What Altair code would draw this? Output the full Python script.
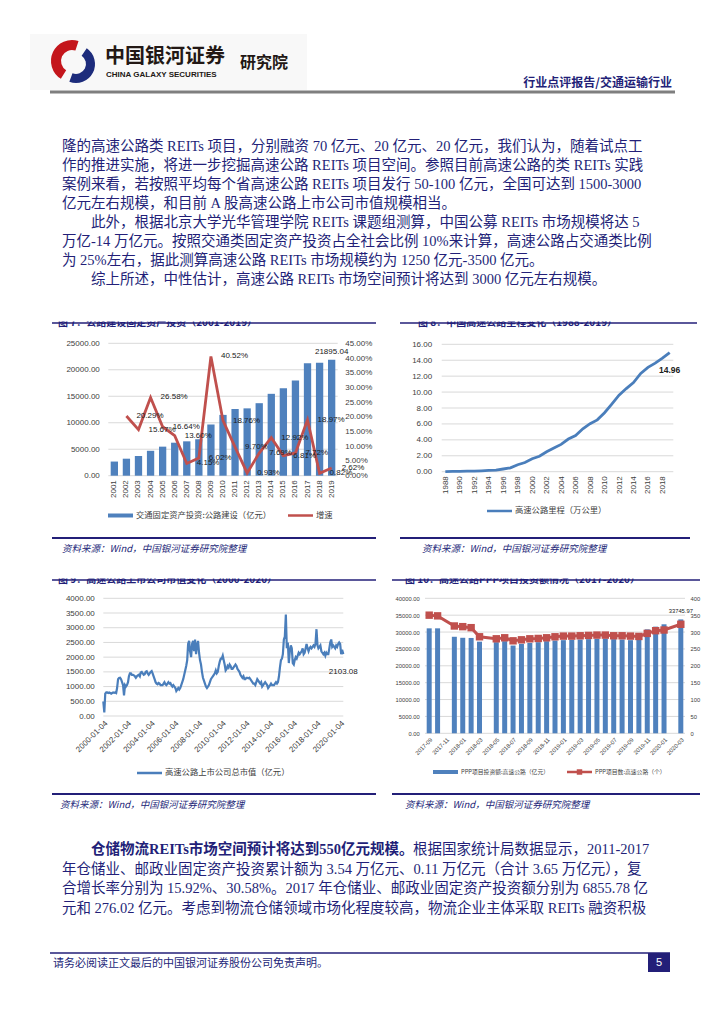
import altair as alt
import pandas as pd

# ---------------- colours & fonts ----------------
NAVY = "#231f78"
LOGO_NAVY = "#1d2c7c"
LOGO_RED = "#c4161c"
BAR_BLUE = "#4f81bd"
LINE_BLUE = "#4a7ebb"
RED = "#c0504d"
GRID = "#d9d9d9"
AXC = "#404040"
CJK = "Noto Sans CJK SC"
BODY = "Liberation Serif, Noto Sans CJK SC"
LAT = "Liberation Sans"

W, H = 708, 1008          # whole page (inside the 8px body margin)
ONE = pd.DataFrame({"k": [0]})
IND = "　　"              # paragraph indent marker (two ideographic spaces)

# ---------------- page texts ----------------
brand_cn = "中国银河证券"
brand_en = "CHINA GALAXY SECURITIES"
brand_inst = "研究院"
header_right = "行业点评报告/交通运输行业"
top_lines = [
    "隆的高速公路类 REITs 项目，分别融资 70 亿元、20 亿元、20 亿元，我们认为，随着试点工",
    "作的推进实施，将进一步挖掘高速公路 REITs 项目空间。参照目前高速公路的类 REITs 实践",
    "案例来看，若按照平均每个省高速公路 REITs 项目发行 50-100 亿元，全国可达到 1500-3000",
    "亿元左右规模，和目前 A 股高速公路上市公司市值规模相当。",
    "　　此外，根据北京大学光华管理学院 REITs 课题组测算，中国公募 REITs 市场规模将达 5",
    "万亿-14 万亿元。按照交通类固定资产投资占全社会比例 10%来计算，高速公路占交通类比例",
    "为 25%左右，据此测算高速公路 REITs 市场规模约为 1250 亿元-3500 亿元。",
    "　　综上所述，中性估计，高速公路 REITs 市场空间预计将达到 3000 亿元左右规模。",
]
bottom_bold = "仓储物流REITs市场空间预计将达到550亿元规模。"
bottom_first_rest = "根据国家统计局数据显示，2011-2017"
bottom_lines = [
    "年仓储业、邮政业固定资产投资累计额为 3.54 万亿元、0.11 万亿元（合计 3.65 万亿元），复",
    "合增长率分别为 15.92%、30.58%。2017 年仓储业、邮政业固定资产投资额分别为 6855.78 亿",
    "元和 276.02 亿元。考虑到物流仓储领域市场化程度较高，物流企业主体采取 REITs 融资积极",
]
footer_text = "请务必阅读正文最后的中国银河证券股份公司免责声明。"
page_no = "5"
source_text = "资料来源：Wind，中国银河证券研究院整理"
titles = [
    "图 7：公路建设固定资产投资（2001-2019）",
    "图 8：中国高速公路里程变化（1988-2019）",
    "图 9：高速公路上市公司市值变化（2000-2020）",
    "图 10：高速公路PPP项目投资额情况（2017-2020）",
]
legend1_bar = "交通固定资产投资:公路建设（亿元）"
legend1_line = "增速"
legend2 = "高速公路里程（万公里）"
legend3 = "高速公路上市公司总市值（亿元）"
legend4_bar = "PPP项目投资额:高速公路（亿元）"
legend4_line = "PPP项目数:高速公路（个）"

# ---------------- chart 1 data ----------------
years1 = ["2001", "2002", "2003", "2004", "2005", "2006", "2007", "2008", "2009", "2010",
          "2011", "2012", "2013", "2014", "2015", "2016", "2017", "2018", "2019"]
invest1 = [2670.0, 3212.0, 3715.0, 4702.0, 5485.0, 6231.0, 6490.0, 6881.0, 9669.0, 11482.0,
           12596.0, 12714.0, 13692.0, 15460.0, 16513.0, 17975.0, 21253.0, 21335.0, 21895.04]
growth1 = [None, 20.29, 15.67, 26.58, 16.64, 13.60, 4.15, 6.02, 40.52, 18.76,
           9.70, 0.93, 7.69, 12.92, 6.81, 7.72, 18.97, 0.82, 2.62]
ticks1_left = [0, 5000, 10000, 15000, 20000, 25000]
ticks1_right = [0, 5, 10, 15, 20, 25, 30, 35, 40, 45]

# ---------------- chart 2 data ----------------
years2 = ["1988", "1989", "1990", "1991", "1992", "1993", "1994", "1995", "1996", "1997",
          "1998", "1999", "2000", "2001", "2002", "2003", "2004", "2005", "2006", "2007",
          "2008", "2009", "2010", "2011", "2012", "2013", "2014", "2015", "2016", "2017",
          "2018", "2019"]
mileage2 = [0.01, 0.03, 0.05, 0.06, 0.07, 0.11, 0.16, 0.21, 0.34, 0.48,
            0.87, 1.16, 1.63, 1.94, 2.51, 2.97, 3.43, 4.10, 4.53, 5.39,
            6.03, 6.51, 7.41, 8.49, 9.62, 10.44, 11.19, 12.35, 13.10, 13.64,
            14.26, 14.96]
ticks2_x = ["1988", "1990", "1992", "1994", "1996", "1998", "2000", "2002", "2004",
            "2006", "2008", "2010", "2012", "2014", "2016", "2018"]
ticks2_y = [0, 2, 4, 6, 8, 10, 12, 14, 16]

# ---------------- chart 3 data (monthly readings 2000-01 .. 2020-03, + last day) ----------------
cap_2000 = [500, 120, 760, 800, 800, 780, 800, 780, 760, 780, 800, 790]
cap_2001 = [800, 780, 950, 1250, 1290, 1300, 1250, 1150, 1050, 700, 1050, 1000]
cap_2002 = [1050, 1150, 1350, 1450, 1450, 1400, 1400, 1380, 1350, 1300, 1350, 1380]
cap_2003 = [1400, 1350, 1480, 1500, 1450, 1400, 1420, 1500, 1520, 1450, 1400, 1450]
cap_2004 = [1500, 1530, 1450, 1350, 1250, 1150, 1100, 1080, 1120, 1100, 1050, 1050]
cap_2005 = [1050, 1100, 1150, 1080, 1050, 1100, 1150, 1100, 1120, 1050, 1000, 1050]
cap_2006 = [1000, 950, 850, 900, 950, 900, 950, 1050, 1150, 1250, 1400, 1550]
cap_2007 = [1700, 1900, 2450, 2550, 2200, 2000, 2450, 2550, 2200, 2600, 2100, 2400]
cap_2008 = [2550, 2150, 1900, 1750, 1500, 1300, 1200, 1100, 1000, 950, 1000, 1050]
cap_2009 = [1150, 1250, 1300, 1350, 1400, 1450, 1550, 1450, 1500, 1700, 1850, 1950]
cap_2010 = [1950, 2050, 1900, 1750, 1550, 1600, 1700, 1650, 1750, 1700, 1600, 1600]
cap_2011 = [1650, 1700, 1750, 1700, 1600, 1550, 1500, 1400, 1350, 1300, 1350, 1250]
cap_2012 = [1250, 1300, 1300, 1280, 1300, 1250, 1200, 1150, 1100, 1100, 1050, 1150]
cap_2013 = [1250, 1200, 1150, 1100, 1150, 1000, 1050, 1100, 1150, 1100, 1050, 950]
cap_2014 = [1000, 1050, 1100, 1050, 1050, 1050, 1100, 1150, 1100, 1150, 1350, 1650]
cap_2015 = [1900, 1950, 2100, 2600, 2700, 3450, 2300, 2500, 1800, 2200, 2400, 2300]
cap_2016 = [1800, 1750, 1900, 2000, 1950, 2050, 2150, 2100, 2150, 2200, 2300, 2100]
cap_2017 = [2150, 2300, 2450, 2300, 2200, 2300, 2350, 2300, 2350, 2400, 2350, 2450]
cap_2018 = [2950, 2400, 2300, 2350, 2400, 2200, 2150, 2100, 2150, 2050, 2150, 2100]
cap_2019 = [2100, 2300, 2500, 2600, 2350, 2400, 2350, 2300, 2400, 2350, 2450, 2500]
cap_2020 = [2450, 2100, 2250, 2103.08]
cap_values = (cap_2000 + cap_2001 + cap_2002 + cap_2003 + cap_2004 + cap_2005 + cap_2006
              + cap_2007 + cap_2008 + cap_2009 + cap_2010 + cap_2011 + cap_2012 + cap_2013
              + cap_2014 + cap_2015 + cap_2016 + cap_2017 + cap_2018 + cap_2019 + cap_2020)
cap_dates = [f"{y}-{m:02d}-04" for y in range(2000, 2020) for m in range(1, 13)]
cap_dates += ["2020-01-04", "2020-02-04", "2020-03-04", "2020-04-10"]
cap_tick_years = [2000, 2002, 2004, 2006, 2008, 2010, 2012, 2014, 2016, 2018, 2020]
ticks3_y = [0, 500, 1000, 1500, 2000, 2500, 3000, 3500, 4000]

# ---------------- chart 4 data ----------------
ppp_months = ["2017-09", "2017-10", "2017-11", "2017-12", "2018-01", "2018-02", "2018-03",
              "2018-04", "2018-05", "2018-06", "2018-07", "2018-08", "2018-09", "2018-10",
              "2018-11", "2018-12", "2019-01", "2019-02", "2019-03", "2019-04", "2019-05",
              "2019-06", "2019-07", "2019-08", "2019-09", "2019-10", "2019-11", "2019-12",
              "2020-01", "2020-02", "2020-03"]
ppp_amount = [31100, 31100, None, 28600, 28300, 28250, 27150,
              None, 27000, 27300, 26000, 26500, 26800, 27000,
              27300, 27500, 27600, 27700, 27800, 27900, 28000,
              28100, 27900, 27800, 27600, 28500, 30800, 31600,
              32300, None, 33745.97]
ppp_count = [350, 348, None, 318, 316, 313, 286,
             None, 280, 283, 274, 277, 280, 281,
             283, 286, 288, 288, 289, 290, 291,
             291, 289, 289, 288, 287, 296, 304,
             306, None, 323]
ticks4_x = ["2017-09", "2017-11", "2018-01", "2018-03", "2018-05", "2018-07", "2018-09",
            "2018-11", "2019-01", "2019-03", "2019-05", "2019-07", "2019-09", "2019-11",
            "2020-01", "2020-03"]
ticks4_left = [0, 5000, 10000, 15000, 20000, 25000, 30000, 35000, 40000]
ticks4_right = [0, 50, 100, 150, 200, 250, 300, 350, 400]


# ---------------- helpers ----------------
def P(v):
    """page pixel -> chart pixel (body margin is 8px)"""
    return v - 8


def rule(x1, x2, y, color, w):
    return alt.Chart(ONE).mark_rule(color=color, strokeWidth=w).encode(
        x=alt.value(P(x1)), x2=alt.value(P(x2)), y=alt.value(P(y)))


def rect(x1, x2, y1, y2, color):
    return alt.Chart(ONE).mark_rect(color=color).encode(
        x=alt.value(P(x1)), x2=alt.value(P(x2)), y=alt.value(P(y1)), y2=alt.value(P(y2)))


def text(s, x, y, size, color, font=CJK, align="left", baseline="middle",
         weight="normal", style="normal"):
    return alt.Chart(ONE).mark_text(
        text=s, align=align, baseline=baseline, fontSize=size, color=color, font=font,
        fontWeight=weight, fontStyle=style).encode(x=alt.value(P(x)), y=alt.value(P(y)))


def square(x, y, size, color):
    return alt.Chart(ONE).mark_point(shape="square", size=size, filled=True, color=color,
                                     opacity=1).encode(x=alt.value(P(x)), y=alt.value(P(y)))


def arc(x, y, r, r0, t0, t1, color):
    return alt.Chart(ONE).mark_arc(radius=r, innerRadius=r0, theta=t0, theta2=t1,
                                   color=color).encode(x=alt.value(P(x)), y=alt.value(P(y)))


def panel_decor(title, title_x, rule_top, rule_bot, src_x, top_y, bot_y):
    return [
        text(title, title_x, top_y + 2.5, 10, NAVY, baseline="alphabetic", weight="bold"),
        rect(rule_top[0] - 2, rule_top[1] + 3, top_y - 12, top_y - 1.5, "white"),
        rule(rule_top[0], rule_top[1], top_y, NAVY, 1.5),
        rule(rule_bot[0], rule_bot[1], bot_y, NAVY, 2),
        text(source_text, src_x, bot_y + 10.5, 9.5, NAVY, style="italic"),
    ]


def grid(ticks, yscale, x0, x1):
    return alt.Chart(pd.DataFrame({"v": ticks})).mark_rule(color=GRID, strokeWidth=1).encode(
        y=alt.Y("v:Q", scale=yscale, axis=None), x=alt.value(x0), x2=alt.value(x1))


AX_BASE = dict(title=None, labelFontSize=8, labelColor=AXC, labelFont=LAT,
               domain=False, ticks=False, labelOverlap=False, grid=False)


# ---------------- chart 1 ----------------
def chart1():
    x0, x1, y0, y1 = P(108.3), P(337.7), P(343.3), P(475.7)
    df = pd.DataFrame({"year": years1, "invest": invest1, "growth": growth1})
    gdf = df.dropna()
    xs = alt.Scale(domain=years1, range=[x0, x1], paddingInner=0, paddingOuter=0)
    sl = alt.Scale(domain=[0, 25000], nice=False, range=[y1, y0])
    sr = alt.Scale(domain=[0, 45], nice=False, range=[y1, y0])
    x_ax = alt.X("year:O", scale=xs,
                 axis=alt.Axis(orient="bottom", offset=y1 - H, labelAngle=270, labelPadding=4,
                               **AX_BASE))
    x_no = alt.X("year:O", scale=xs, axis=None)
    yl_ax = alt.Y("invest:Q", scale=sl,
                  axis=alt.Axis(orient="left", offset=-x0, values=ticks1_left, format=".2f",
                                labelPadding=9, **AX_BASE))
    yl_no = alt.Y("invest:Q", scale=sl, axis=None)
    yr_ax = alt.Y("growth:Q", scale=sr,
                  axis=alt.Axis(orient="right", offset=x1 - W, values=ticks1_right,
                                labelExpr="format(datum.value, '.2f') + '%'",
                                labelPadding=7, **AX_BASE))
    yr_no = alt.Y("growth:Q", scale=sr, axis=None)
    layers = [
        grid(ticks1_left, sl, x0, x1),
        alt.Chart(df).mark_bar(size=7.3, color=BAR_BLUE).encode(x=x_ax, y=yl_ax),
        alt.Chart(df.tail(1)).mark_text(
            baseline="bottom", dy=-4, fontSize=8, color="#202020", font=LAT).encode(
            x=x_no, y=yl_no, text=alt.Text("invest:Q", format=".2f")),
        alt.Chart(gdf).mark_line(color=RED, strokeWidth=2.8).encode(x=x_no, y=yr_ax),
        alt.Chart(gdf).transform_calculate(
            lbl="format(datum.growth, '.2f') + '%'").mark_text(
            align="left", dx=10, baseline="middle", fontSize=8, color="#202020",
            font=LAT).encode(x=x_no, y=yr_no, text="lbl:N"),
    ]
    layers += panel_decor(titles[0], 58, (52, 376), (52, 376), 62, 323, 538)
    layers += [
        rect(108, 133, 513.5, 517.5, BAR_BLUE),
        text(legend1_bar, 136, 515.5, 8.3, AXC),
        rule(288, 313, 515.5, RED, 2.5),
        text(legend1_line, 316, 515.5, 8.3, AXC),
    ]
    return layers


# ---------------- chart 2 ----------------
def chart2():
    x0, x1, y0, y1 = P(441.7), P(673.3), P(344.3), P(471.7)
    df = pd.DataFrame({"year": years2, "km": mileage2})
    xs = alt.Scale(type="point", domain=years2, padding=0.5, range=[x0, x1])
    ys = alt.Scale(domain=[0, 16], nice=False, range=[y1, y0])
    x_ax = alt.X("year:O", scale=xs,
                 axis=alt.Axis(orient="bottom", offset=y1 - H, values=ticks2_x, labelAngle=270,
                               labelPadding=4, **AX_BASE))
    x_no = alt.X("year:O", scale=xs, axis=None)
    y_ax = alt.Y("km:Q", scale=ys,
                 axis=alt.Axis(orient="left", offset=-x0, values=ticks2_y, format=".2f",
                               labelPadding=10, **AX_BASE))
    y_no = alt.Y("km:Q", scale=ys, axis=None)
    layers = [
        grid(ticks2_y, ys, x0, x1),
        alt.Chart(df).mark_line(color=LINE_BLUE, strokeWidth=2.8).encode(x=x_ax, y=y_ax),
        alt.Chart(df.tail(1)).mark_text(
            baseline="middle", dy=17, fontSize=8.5, fontWeight="bold", color="#202020",
            font=LAT).encode(x=x_no, y=y_no, text=alt.Text("km:Q", format=".2f")),
    ]
    layers += panel_decor(titles[1], 418, (400, 697), (400, 690), 422, 323, 538)
    layers += [
        rule(487, 512, 511, LINE_BLUE, 2.5),
        text(legend2, 515, 511, 8.3, AXC),
    ]
    return layers


# ---------------- chart 3 ----------------
def chart3():
    x0, x1, y0, y1 = P(103.3), P(343.3), P(598.3), P(716.0)
    df = pd.DataFrame({"date": cap_dates, "cap": cap_values})
    xs = alt.Scale(type="utc", range=[x0, x1], domain=[
        alt.DateTime(year=2000, month=1, date=4, utc=True),
        alt.DateTime(year=2020, month=4, date=10, utc=True)])
    ys = alt.Scale(domain=[0, 4000], nice=False, range=[y1, y0])
    x_ax = alt.X("date:T", scale=xs,
                 axis=alt.Axis(orient="bottom", offset=y1 - H,
                               values=[alt.DateTime(year=yy, month=1, date=4, utc=True)
                                       for yy in cap_tick_years],
                               format="%Y-%m-%d", labelAngle=315, labelPadding=3,
                               labelFlush=False, **AX_BASE))
    x_no = alt.X("date:T", scale=xs, axis=None)
    y_ax = alt.Y("cap:Q", scale=ys,
                 axis=alt.Axis(orient="left", offset=-x0, values=ticks3_y, format=".2f",
                               labelPadding=9, **AX_BASE))
    y_no = alt.Y("cap:Q", scale=ys, axis=None)
    layers = [
        grid(ticks3_y, ys, x0, x1),
        alt.Chart(df).mark_line(color=LINE_BLUE, strokeWidth=2.2).encode(x=x_ax, y=y_ax),
        alt.Chart(df.tail(1)).mark_text(
            baseline="middle", dy=18, fontSize=8, color="#202020", font=LAT).encode(
            x=x_no, y=y_no, text=alt.Text("cap:Q", format=".2f")),
    ]
    layers += panel_decor(titles[2], 58, (52, 376), (52, 376), 60, 580, 794)
    layers += [
        rule(137, 162, 773, LINE_BLUE, 2.5),
        text(legend3, 165, 773, 8.3, AXC),
    ]
    return layers


# ---------------- chart 4 ----------------
def chart4():
    x0, x1, y0, y1 = P(425.0), P(685.0), P(598.3), P(733.3)
    fs = 5.8
    ax4 = dict(AX_BASE, labelFontSize=fs)
    df = pd.DataFrame({"month": ppp_months, "amount": ppp_amount, "count": ppp_count})
    bdf = df.dropna(subset=["amount"])
    ldf = df.dropna(subset=["count"])
    xs = alt.Scale(domain=ppp_months, range=[x0, x1], paddingInner=0, paddingOuter=0)
    sl = alt.Scale(domain=[0, 40000], nice=False, range=[y1, y0])
    sr = alt.Scale(domain=[0, 400], nice=False, range=[y1, y0])
    x_ax = alt.X("month:O", scale=xs,
                 axis=alt.Axis(orient="bottom", offset=y1 - H, values=ticks4_x, labelAngle=315,
                               labelPadding=3, **ax4))
    x_no = alt.X("month:O", scale=xs, axis=None)
    yl_ax = alt.Y("amount:Q", scale=sl,
                  axis=alt.Axis(orient="left", offset=-x0, values=ticks4_left, format=".2f",
                                labelPadding=5.7, **ax4))
    yl_no = alt.Y("amount:Q", scale=sl, axis=None)
    yr_ax = alt.Y("count:Q", scale=sr,
                  axis=alt.Axis(orient="right", offset=x1 - W, values=ticks4_right, format="d",
                                labelPadding=5, **ax4))
    layers = [
        grid(ticks4_left, sl, x0, x1),
        alt.Chart(bdf).mark_bar(size=5, color=BAR_BLUE).encode(x=x_ax, y=yl_ax),
        alt.Chart(bdf.tail(1)).mark_text(
            baseline="bottom", dy=-5, fontSize=fs, color="#202020", font=LAT).encode(
            x=x_no, y=yl_no, text=alt.Text("amount:Q", format=".2f")),
        alt.Chart(ldf).mark_line(
            color=RED, strokeWidth=3,
            point=alt.OverlayMarkDef(shape="square", size=55, filled=True, color=RED,
                                     opacity=1)).encode(x=x_no, y=yr_ax),
    ]
    layers += panel_decor(titles[3], 405, (392, 700), (392, 700), 405, 580, 794)
    layers += [
        rect(433, 458, 770, 774, BAR_BLUE),
        text(legend4_bar, 461, 772, fs, AXC),
        rule(567, 592, 772, RED, 2.5),
        square(579.5, 772, 30, RED),
        text(legend4_line, 595, 772, fs, AXC),
    ]
    return layers


# ---------------- header + paragraphs + footer ----------------
def para_frame(lines, first_index=0):
    return pd.DataFrame({
        "i": list(range(first_index, first_index + len(lines))),
        "t": [s.replace(IND, "") for s in lines],
        "ind": [1 if s.startswith(IND) else 0 for s in lines],
    })


def page_text():
    indent_scale = alt.Scale(domain=[0, 1], range=[P(62), P(91)])
    top_para = alt.Chart(para_frame(top_lines)).mark_text(
        align="left", baseline="middle", fontSize=14.5, color=NAVY, font=BODY).encode(
        x=alt.X("ind:Q", scale=indent_scale, axis=None),
        y=alt.Y("i:Q", scale=alt.Scale(domain=[0, len(top_lines) - 1],
                                       range=[P(147), P(280)]), axis=None),
        text="t:N")
    bot_para = alt.Chart(para_frame(bottom_lines, 1)).mark_text(
        align="left", baseline="middle", fontSize=14.5, color=NAVY, font=BODY).encode(
        x=alt.X("ind:Q", scale=indent_scale, axis=None),
        y=alt.Y("i:Q", scale=alt.Scale(domain=[0, 3], range=[P(850), P(908.5)]), axis=None),
        text="t:N")
    return [
        rect(30, 307, 34, 90, "#f8f8f8"),
        arc(72, 61, 21, 11, 3.7, 6.6, LOGO_RED),
        arc(76, 64, 19, 10, 0.6, 3.5, LOGO_NAVY),
        text(brand_cn, 105, 57, 20, "#231815", weight="bold"),
        text(brand_en, 106, 75, 8, "#231815", font=LAT, weight="bold"),
        text(brand_inst, 240, 63, 16, "#231815", weight="bold"),
        text(header_right, 672, 83, 12, NAVY, align="right", weight="bold"),
        rule(50, 675, 92, "#7f7f7f", 3),
        top_para,
        text(bottom_bold, 91, 850, 14.5, NAVY, font=BODY, weight="bold"),
        text(bottom_first_rest, 413, 850, 14.5, NAVY, font=BODY),
        bot_para,
        rule(50, 670, 953, NAVY, 1.5),
        rect(648, 670, 953, 972, NAVY),
        text(page_no, 659, 962.5, 11, "white", font=LAT, align="center"),
        text(footer_text, 53, 964, 11, NAVY),
    ]


all_layers = page_text() + chart1() + chart2() + chart3() + chart4()

chart = alt.layer(*all_layers).resolve_scale(
    x="independent", y="independent"
).resolve_axis(
    x="independent", y="independent"
).properties(
    width=W, height=H, padding=0
).configure_view(stroke=None)

chart.save("out.html", embed_options={"renderer": "svg", "actions": False})
